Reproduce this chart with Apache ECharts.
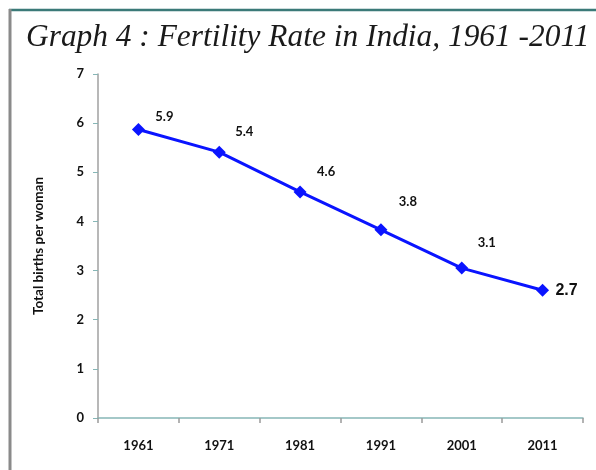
<!DOCTYPE html>
<html>
<head>
<meta charset="utf-8">
<script src="https://cdn.jsdelivr.net/npm/echarts@6/dist/echarts.min.js"></script>
<style>html,body{margin:0;padding:0;background:#fff;}#c{width:596px;height:470px;}</style>
</head>
<body>
<div id="c"></div>
<script>
var years = ['1961', '1971', '1981', '1991', '2001', '2011'];
var fertility = [5.87, 5.41, 4.60, 3.83, 3.05, 2.60];
var valueLabels = ['5.9', '5.4', '4.6', '3.8', '3.1', '2.7'];
var yTicks = [0, 1, 2, 3, 4, 5, 6, 7];

var labelOffsets = [[26, -13], [25, -20], [26, -20], [27, -28], [25, -25], [24, 0]];

var chart = echarts.init(document.getElementById('c'));
var seriesData = fertility.map(function (v, i) {
  var last = i === fertility.length - 1;
  return {
    value: v,
    label: {
      show: true,
      formatter: valueLabels[i],
      position: 'inside',
      offset: labelOffsets[i],
      fontFamily: last ? 'Liberation Sans' : 'Lato',
      fontWeight: 'bold',
      fontSize: last ? 16 : 13,
      color: '#111111'
    }
  };
});

chart.setOption({
  animation: false,
  backgroundColor: '#ffffff',
  title: {
    text: 'Graph 4 : Fertility Rate in India, 1961 -2011',
    left: 21,
    top: 17,
    textStyle: {
      fontFamily: 'Liberation Serif',
      fontStyle: 'italic',
      fontWeight: 'normal',
      fontSize: 31.4,
      color: '#1a1a1a'
    }
  },
  graphic: [
    { type: 'line', shape: { x1: 9, y1: 10, x2: 596, y2: 10 }, style: { stroke: '#3b7a78', lineWidth: 2.5 } },
    { type: 'line', shape: { x1: 10, y1: 9, x2: 10, y2: 470 }, style: { stroke: '#8a8a8a', lineWidth: 3 } }
  ],
  grid: { left: 98, right: 13, top: 74, bottom: 52 },
  xAxis: {
    type: 'category',
    data: years,
    boundaryGap: true,
    axisLine: { lineStyle: { color: '#86b6b6', width: 1.5 } },
    axisTick: { show: true, length: 5, lineStyle: { color: '#9a9a9a', width: 1.5 }, alignWithLabel: false },
    axisLabel: { margin: 21, fontFamily: 'Lato', fontWeight: 'bold', fontSize: 13, color: '#111111' }
  },
  yAxis: {
    type: 'value',
    min: yTicks[0],
    max: yTicks[yTicks.length - 1],
    interval: 1,
    name: 'Total births per woman',
    nameLocation: 'middle',
    nameRotate: 90,
    nameGap: 52,
    nameTextStyle: { fontFamily: 'Lato', fontWeight: 'bold', fontSize: 13.5, color: '#111111' },
    axisLine: { show: true, lineStyle: { color: '#a0a0a0', width: 1.5 } },
    axisTick: { show: true, inside: false, length: 5, lineStyle: { color: '#86b6b6', width: 1 } },
    axisLabel: { margin: 14, fontFamily: 'Lato', fontWeight: 'bold', fontSize: 13, color: '#111111' },
    splitLine: { show: false }
  },
  series: [{
    type: 'line',
    data: seriesData,
    symbol: 'diamond',
    symbolSize: 13,
    lineStyle: { color: '#0a14ff', width: 3 },
    itemStyle: { color: '#0a14ff' }
  }]
});
</script>
</body>
</html>
